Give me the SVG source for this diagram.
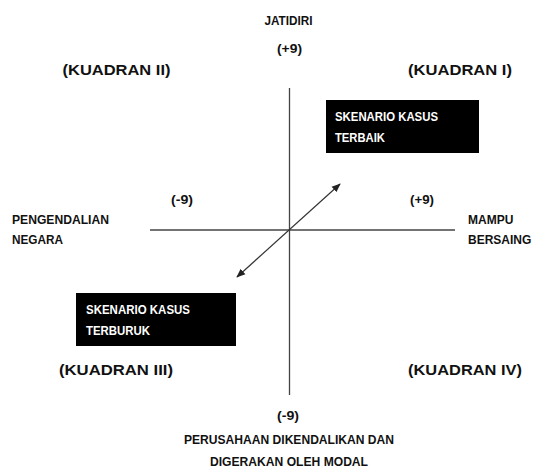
<svg xmlns="http://www.w3.org/2000/svg" width="535" height="468" viewBox="0 0 535 468">
<style>
text{font-family:"Liberation Sans",Arial,sans-serif;font-weight:bold;fill:#111}
.s{font-size:13px}
.r{font-size:12px}
.q{font-size:15.5px}
.w{fill:#fff;font-size:13px}
.ax{stroke:#444;stroke-width:1.3;fill:none}
.ar{stroke:#333;stroke-width:1.2;fill:none}
.box{fill:#000}
</style>
<defs>
<marker id="ah" viewBox="0 0 10 10" refX="9" refY="5" markerWidth="9" markerHeight="9" orient="auto-start-reverse" markerUnits="userSpaceOnUse">
<path d="M0,1 L10,5 L0,9 z" fill="#222"/>
</marker>
</defs>
<g id="connectors">
<line class="ax" x1="289.5" y1="88" x2="289.5" y2="395"/>
<line class="ax" x1="150" y1="230" x2="455" y2="230"/>
<line class="ar" x1="237" y1="277" x2="340" y2="184" marker-start="url(#ah)" marker-end="url(#ah)"/>
</g>
<g id="labels">
<text class="s" x="264.5" y="25" textLength="48" lengthAdjust="spacingAndGlyphs">JATIDIRI</text>
<text class="s" x="277" y="53" textLength="25" lengthAdjust="spacingAndGlyphs">(+9)</text>
<text class="q" x="62.5" y="75" textLength="108" lengthAdjust="spacingAndGlyphs">(KUADRAN II)</text>
<text class="q" x="408" y="75" textLength="104" lengthAdjust="spacingAndGlyphs">(KUADRAN I)</text>
<text class="s" x="171" y="204" textLength="22" lengthAdjust="spacingAndGlyphs">(-9)</text>
<text class="s" x="410" y="204" textLength="24" lengthAdjust="spacingAndGlyphs">(+9)</text>
<text class="s" x="12" y="224" textLength="97" lengthAdjust="spacingAndGlyphs">PENGENDALIAN</text>
<text class="s" x="12" y="244" textLength="51" lengthAdjust="spacingAndGlyphs">NEGARA</text>
<text class="r" x="468" y="224">MAMPU</text>
<text class="r" x="468" y="244">BERSAING</text>
<text class="q" x="59" y="375" textLength="114" lengthAdjust="spacingAndGlyphs">(KUADRAN III)</text>
<text class="q" x="408" y="375" textLength="114" lengthAdjust="spacingAndGlyphs">(KUADRAN IV)</text>
<text class="s" x="277" y="420" textLength="22" lengthAdjust="spacingAndGlyphs">(-9)</text>
<text class="s" x="184" y="444" textLength="210" lengthAdjust="spacingAndGlyphs">PERUSAHAAN DIKENDALIKAN DAN</text>
<text class="s" x="210" y="466" textLength="158" lengthAdjust="spacingAndGlyphs">DIGERAKAN OLEH MODAL</text>
</g>
<g id="best">
<rect class="box" x="326" y="100" width="153" height="53"/>
<text class="w" x="335" y="121" textLength="103" lengthAdjust="spacingAndGlyphs">SKENARIO KASUS</text>
<text class="w" x="335" y="142" textLength="50" lengthAdjust="spacingAndGlyphs">TERBAIK</text>
</g>
<g id="worst">
<rect class="box" x="76" y="293" width="160" height="53"/>
<text class="w" x="86" y="314" textLength="104" lengthAdjust="spacingAndGlyphs">SKENARIO KASUS</text>
<text class="w" x="86" y="335" textLength="64" lengthAdjust="spacingAndGlyphs">TERBURUK</text>
</g>
</svg>
